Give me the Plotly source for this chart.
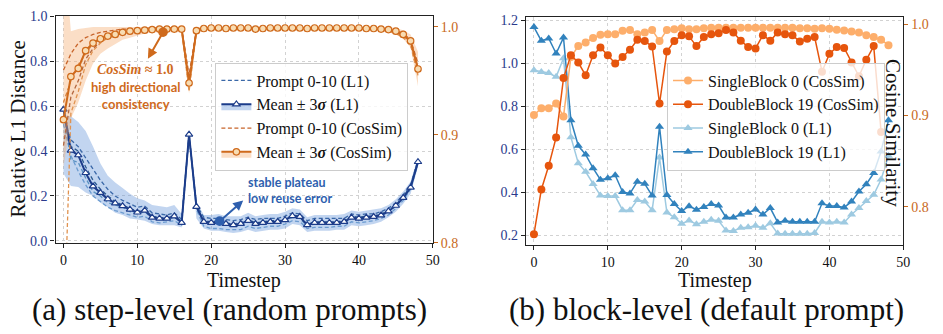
import plotly.graph_objects as go

# ---------------- data: (a) step-level ----------------
t = list(range(49))
x_ticks = [0, 10, 20, 30, 40, 50]

l1_mean = [0.585, 0.403, 0.382, 0.303, 0.243, 0.214, 0.186, 0.168, 0.155, 0.14,
           0.127, 0.135, 0.104, 0.10, 0.10, 0.11, 0.081, 0.474, 0.152, 0.085,
           0.081, 0.085, 0.076, 0.071, 0.076, 0.090, 0.076, 0.081, 0.085, 0.085,
           0.093, 0.111, 0.107, 0.071, 0.081, 0.081, 0.081, 0.081, 0.085, 0.104,
           0.100, 0.104, 0.107, 0.114, 0.132, 0.157, 0.192, 0.238, 0.352]
l1_lo = [0.30, 0.245, 0.24, 0.215, 0.20, 0.17, 0.15, 0.125, 0.115, 0.10,
         0.095, 0.09, 0.075, 0.07, 0.07, 0.07, 0.06, 0.455, 0.10, 0.055,
         0.045, 0.045, 0.04, 0.035, 0.04, 0.05, 0.04, 0.045, 0.05, 0.05,
         0.055, 0.075, 0.07, 0.04, 0.045, 0.045, 0.045, 0.05, 0.05, 0.07,
         0.065, 0.07, 0.075, 0.085, 0.105, 0.13, 0.165, 0.21, 0.33]
l1_hi = [0.56, 0.555, 0.53, 0.49, 0.42, 0.345, 0.29, 0.26, 0.235, 0.21,
         0.19, 0.18, 0.16, 0.155, 0.15, 0.16, 0.12, 0.49, 0.175, 0.115,
         0.115, 0.12, 0.11, 0.11, 0.11, 0.125, 0.11, 0.115, 0.12, 0.12,
         0.13, 0.145, 0.14, 0.105, 0.115, 0.115, 0.115, 0.115, 0.12, 0.135,
         0.13, 0.135, 0.14, 0.145, 0.16, 0.185, 0.22, 0.265, 0.375]

cos_mean = [0.914, 0.954, 0.9615, 0.978, 0.985, 0.989, 0.9915, 0.993, 0.995, 0.996,
            0.9965, 0.997, 0.9975, 0.998, 0.998, 0.998, 0.998, 0.948, 0.9965, 0.9985,
            0.999, 0.999, 0.9985, 0.999, 0.999, 0.999, 0.998, 0.9985, 0.999, 0.999,
            0.999, 0.999, 0.999, 0.9985, 0.999, 0.999, 0.999, 0.999, 0.999, 0.999,
            0.999, 0.9985, 0.9985, 0.998, 0.9975, 0.996, 0.993, 0.987, 0.961]
cos_lo = [0.87, 0.915, 0.93, 0.95, 0.966, 0.975, 0.98, 0.984, 0.988, 0.99,
          0.992, 0.994, 0.995, 0.995, 0.995, 0.995, 0.995, 0.938, 0.993, 0.997,
          0.997, 0.997, 0.997, 0.997, 0.997, 0.997, 0.996, 0.997, 0.997, 0.997,
          0.997, 0.997, 0.997, 0.997, 0.997, 0.997, 0.997, 0.997, 0.997, 0.997,
          0.997, 0.997, 0.997, 0.996, 0.995, 0.993, 0.989, 0.981, 0.945]
cos_hi = [1.08, 0.996, 0.998, 0.999, 1.0, 1.0, 1.0, 1.0, 1.0, 1.0,
          1.0, 1.0, 1.0, 1.0, 1.0, 1.0, 1.0, 0.958, 1.0, 1.0,
          1.0, 1.0, 1.0, 1.0, 1.0, 1.0, 1.0, 1.0, 1.0, 1.0,
          1.0, 1.0, 1.0, 1.0, 1.0, 1.0, 1.0, 1.0, 1.0, 1.0,
          1.0, 1.0, 1.0, 1.0, 1.0, 0.999, 0.997, 0.993, 0.977]

l1_p1 = [0.56, 0.45, 0.42, 0.37, 0.32, 0.27, 0.23, 0.20, 0.18, 0.165,
         0.15, 0.155, 0.125, 0.12, 0.115, 0.125, 0.095, 0.47, 0.16, 0.105,
         0.10, 0.10, 0.095, 0.09, 0.095, 0.105, 0.095, 0.10, 0.10, 0.10,
         0.11, 0.125, 0.12, 0.09, 0.10, 0.10, 0.10, 0.10, 0.10, 0.12,
         0.115, 0.12, 0.12, 0.13, 0.145, 0.17, 0.205, 0.25, 0.36]
l1_p2 = [0.52, 0.38, 0.31, 0.25, 0.20, 0.175, 0.15, 0.135, 0.125, 0.115,
         0.105, 0.11, 0.085, 0.08, 0.085, 0.09, 0.07, 0.475, 0.14, 0.065,
         0.055, 0.055, 0.05, 0.05, 0.05, 0.065, 0.055, 0.06, 0.065, 0.065,
         0.075, 0.09, 0.085, 0.055, 0.06, 0.06, 0.06, 0.065, 0.065, 0.085,
         0.08, 0.085, 0.09, 0.10, 0.115, 0.145, 0.18, 0.23, 0.345]
l1_p3 = [0.60, 0.42, 0.40, 0.33, 0.27, 0.23, 0.20, 0.175, 0.16, 0.145,
         0.13, 0.14, 0.11, 0.105, 0.10, 0.115, 0.085, 0.48, 0.155, 0.09,
         0.085, 0.09, 0.08, 0.075, 0.08, 0.095, 0.08, 0.085, 0.09, 0.09,
         0.095, 0.115, 0.11, 0.075, 0.085, 0.085, 0.085, 0.085, 0.09, 0.11,
         0.105, 0.11, 0.11, 0.12, 0.135, 0.16, 0.195, 0.245, 0.355]
l1_p4 = [0.58, 0.36, 0.35, 0.28, 0.22, 0.20, 0.17, 0.16, 0.15, 0.13,
         0.12, 0.13, 0.10, 0.095, 0.095, 0.105, 0.08, 0.465, 0.15, 0.08,
         0.075, 0.08, 0.07, 0.065, 0.07, 0.085, 0.07, 0.075, 0.08, 0.08,
         0.09, 0.105, 0.10, 0.065, 0.075, 0.075, 0.075, 0.075, 0.08, 0.10,
         0.095, 0.10, 0.105, 0.11, 0.13, 0.155, 0.19, 0.235, 0.35]

cos_p1 = [0.96, 0.975, 0.985, 0.99, 0.993, 0.995, 0.996, 0.997, 0.998, 0.998,
          0.998, 0.999, 0.999, 0.999, 0.999, 0.999, 0.999, 0.955, 0.998, 0.999,
          0.9995, 0.9995, 0.999, 0.9995, 0.9995, 0.9995, 0.999, 0.999, 0.9995, 0.9995,
          0.9995, 0.9995, 0.9995, 0.999, 0.9995, 0.9995, 0.9995, 0.9995, 0.9995, 0.9995,
          0.9995, 0.999, 0.999, 0.9985, 0.998, 0.9965, 0.994, 0.988, 0.966]
cos_p2 = [0.93, 0.95, 0.965, 0.975, 0.985, 0.99, 0.993, 0.995, 0.996, 0.997,
          0.997, 0.998, 0.998, 0.998, 0.998, 0.998, 0.998, 0.945, 0.997, 0.998,
          0.999, 0.999, 0.998, 0.999, 0.999, 0.999, 0.998, 0.998, 0.999, 0.999,
          0.999, 0.999, 0.999, 0.998, 0.999, 0.999, 0.999, 0.999, 0.999, 0.999,
          0.999, 0.998, 0.998, 0.9975, 0.9965, 0.995, 0.991, 0.984, 0.957]
cos_p3 = [0.89, 0.935, 0.95, 0.97, 0.98, 0.986, 0.99, 0.992, 0.994, 0.995,
          0.996, 0.997, 0.997, 0.998, 0.998, 0.998, 0.998, 0.952, 0.996, 0.998,
          0.999, 0.999, 0.998, 0.999, 0.999, 0.999, 0.998, 0.999, 0.999, 0.999,
          0.999, 0.999, 0.999, 0.999, 0.999, 0.999, 0.999, 0.999, 0.999, 0.999,
          0.999, 0.999, 0.998, 0.998, 0.997, 0.995, 0.992, 0.986, 0.962]
cos_p4 = [0.70, 0.92, 0.94, 0.965, 0.978, 0.985, 0.99, 0.992, 0.994, 0.995,
          0.996, 0.997, 0.997, 0.997, 0.997, 0.997, 0.997, 0.94, 0.995, 0.998,
          0.9985, 0.9985, 0.998, 0.9985, 0.9985, 0.9985, 0.998, 0.998, 0.9985, 0.9985,
          0.9985, 0.9985, 0.9985, 0.998, 0.9985, 0.9985, 0.9985, 0.9985, 0.9985, 0.9985,
          0.9985, 0.998, 0.998, 0.997, 0.996, 0.994, 0.99, 0.983, 0.955]

l1_prompts = [l1_p1, l1_p2, l1_p3, l1_p4]
cos_prompts = [cos_p1, cos_p2, cos_p3, cos_p4]

# ---------------- data: (b) block-level ----------------
single_l1 = [0.968, 0.96, 0.955, 0.937, 1.024, 0.656, 0.535, 0.495, 0.438, 0.384,
             0.382, 0.382, 0.316, 0.316, 0.364, 0.357, 0.316, 0.561, 0.305, 0.283,
             0.253, 0.268, 0.251, 0.262, 0.271, 0.267, 0.222, 0.219, 0.234, 0.237,
             0.244, 0.234, 0.255, 0.207, 0.206, 0.206, 0.206, 0.206, 0.210, 0.262,
             0.259, 0.262, 0.259, 0.296, 0.326, 0.359, 0.388, 0.459, 0.57]
double_l1 = [1.169, 1.105, 1.116, 1.046, 1.12, 0.735, 0.616, 0.575, 0.512, 0.458,
             0.465, 0.479, 0.401, 0.394, 0.449, 0.439, 0.384, 0.705, 0.387, 0.345,
             0.312, 0.335, 0.318, 0.331, 0.345, 0.338, 0.282, 0.282, 0.296, 0.304,
             0.319, 0.296, 0.326, 0.259, 0.267, 0.262, 0.262, 0.262, 0.262, 0.348,
             0.336, 0.336, 0.329, 0.356, 0.403, 0.437, 0.489, 0.59, 0.735]
single_cos = [0.9005, 0.908, 0.908, 0.913, 0.899, 0.964, 0.976, 0.980, 0.985, 0.9885,
              0.989, 0.989, 0.9927, 0.9937, 0.989, 0.991, 0.9937, 0.9815, 0.9937, 0.9945,
              0.9955, 0.9945, 0.9945, 0.9955, 0.996, 0.996, 0.996, 0.996, 0.996, 0.996,
              0.996, 0.996, 0.996, 0.996, 0.996, 0.996, 0.9955, 0.9955, 0.995, 0.9955,
              0.995, 0.994, 0.993, 0.992, 0.991, 0.988, 0.986, 0.983, 0.977]
double_cos = [0.770, 0.819, 0.845, 0.876, 0.941, 0.966, 0.958, 0.944, 0.966, 0.9745,
              0.966, 0.957, 0.964, 0.972, 0.983, 0.9815, 0.9756, 0.913, 0.970, 0.9815,
              0.9878, 0.9867, 0.976, 0.986, 0.989, 0.990, 0.9937, 0.991, 0.982, 0.975,
              0.9735, 0.988, 0.982, 0.991, 0.989, 0.988, 0.981, 0.984, 0.986, 0.948,
              0.9675, 0.975, 0.974, 0.958, 0.943, 0.961, 0.976, 0.882]

# ---------------- styles ----------------
SERIF = "Liberation Serif, Times New Roman, serif"
SANS = "Lato, Open Sans, sans-serif"
NAVY = "#1c3c8a"
ORANGE = "#cf6a1c"
L1_BAND = "rgba(95,145,215,0.38)"
COS_BAND = "rgba(244,172,112,0.40)"
L1_PROMPT_COLORS = ["#3a68a8", "#6b9bd0", "#2c5a90", "#5b92c2"]
COS_PROMPT_COLORS = ["#c8642a", "#da8540", "#b4673f", "#e0924f"]
AXIS_TICK_BLUE = "#2b3a8c"
AXIS_TICK_ORANGE = "#c8691c"
GRID = "#d2d2d2"

fig = go.Figure()

# ---- (a) L1 band ----
fig.add_trace(go.Scatter(x=t, y=l1_hi, mode="lines", line=dict(width=0),
                         showlegend=False, hoverinfo="skip", xaxis="x", yaxis="y"))
fig.add_trace(go.Scatter(x=t, y=l1_lo, mode="lines", line=dict(width=0),
                         fill="tonexty", fillcolor=L1_BAND,
                         showlegend=False, hoverinfo="skip", xaxis="x", yaxis="y"))
for i, p in enumerate(l1_prompts):
    fig.add_trace(go.Scatter(x=t, y=p, mode="lines",
                             line=dict(color=L1_PROMPT_COLORS[i], width=1.3, dash="4px,2.5px"),
                             name="Prompt 0-10 (L1)", showlegend=(i == 0),
                             legend="legend", legendrank=1,
                             xaxis="x", yaxis="y"))
fig.add_trace(go.Scatter(x=t, y=l1_mean, mode="lines+markers",
                         line=dict(color=NAVY, width=2),
                         marker=dict(symbol="triangle-up", size=6.5, color="white",
                                     line=dict(color=NAVY, width=1.2)),
                         showlegend=False, xaxis="x", yaxis="y"))
fig.add_trace(go.Scatter(x=[None], y=[None], mode="lines+markers",
                         line=dict(color=NAVY, width=2), fill="toself", fillcolor=L1_BAND,
                         marker=dict(symbol="triangle-up", size=6.5, color="white",
                                     line=dict(color=NAVY, width=1.2)),
                         name="Mean ± 3<i><b>σ</b></i> (L1)", legend="legend", legendrank=2,
                         xaxis="x", yaxis="y"))

# ---- (a) CosSim band ----
fig.add_trace(go.Scatter(x=t, y=cos_hi, mode="lines", line=dict(width=0),
                         showlegend=False, hoverinfo="skip", xaxis="x", yaxis="y2"))
fig.add_trace(go.Scatter(x=t, y=cos_lo, mode="lines", line=dict(width=0),
                         fill="tonexty", fillcolor=COS_BAND,
                         showlegend=False, hoverinfo="skip", xaxis="x", yaxis="y2"))
for i, p in enumerate(cos_prompts):
    fig.add_trace(go.Scatter(x=t, y=p, mode="lines",
                             line=dict(color=COS_PROMPT_COLORS[i], width=1.3, dash="4px,2.5px"),
                             name="Prompt 0-10 (CosSim)", showlegend=(i == 0),
                             legend="legend", legendrank=3,
                             xaxis="x", yaxis="y2"))
fig.add_trace(go.Scatter(x=t, y=cos_mean, mode="lines+markers",
                         line=dict(color=ORANGE, width=2),
                         marker=dict(symbol="circle", size=6.5, color="#f8dcb2",
                                     line=dict(color=ORANGE, width=1.2)),
                         showlegend=False, xaxis="x", yaxis="y2"))
fig.add_trace(go.Scatter(x=[None], y=[None], mode="lines+markers",
                         line=dict(color=ORANGE, width=2), fill="toself", fillcolor=COS_BAND,
                         marker=dict(symbol="circle", size=6.5, color="#f8dcb2",
                                     line=dict(color=ORANGE, width=1.2)),
                         name="Mean ± 3<i><b>σ</b></i> (CosSim)", legend="legend", legendrank=4,
                         xaxis="x", yaxis="y2"))

# ---- (b) block level ----
fig.add_trace(go.Scatter(x=t, y=single_l1, mode="lines+markers", name="SingleBlock 0 (L1)",
                         line=dict(color="#9ecae1", width=1.5),
                         marker=dict(symbol="triangle-up", size=8, color="#9ecae1"),
                         legend="legend2", legendrank=3, xaxis="x2", yaxis="y3"))
fig.add_trace(go.Scatter(x=t, y=double_l1, mode="lines+markers", name="DoubleBlock 19 (L1)",
                         line=dict(color="#3182bd", width=1.5),
                         marker=dict(symbol="triangle-up", size=8, color="#3182bd"),
                         legend="legend2", legendrank=4, xaxis="x2", yaxis="y3"))
fig.add_trace(go.Scatter(x=t, y=single_cos, mode="lines+markers", name="SingleBlock 0 (CosSim)",
                         line=dict(color="#fdae6b", width=1.5),
                         marker=dict(symbol="circle", size=8, color="#fdae6b"),
                         legend="legend2", legendrank=1, xaxis="x2", yaxis="y4"))
fig.add_trace(go.Scatter(x=t[:len(double_cos)], y=double_cos, mode="lines+markers",
                         name="DoubleBlock 19 (CosSim)",
                         line=dict(color="#e6550d", width=1.5),
                         marker=dict(symbol="circle", size=8, color="#e6550d"),
                         legend="legend2", legendrank=2, xaxis="x2", yaxis="y4"))

W, H = 943, 334
def px(v): return v / W
def py(v): return 1 - v / H

xa = dict(range=[-1.07, 50], tickvals=x_ticks, ticks="outside", ticklen=4, tickwidth=1,
          tickcolor="#222", showline=True, mirror=True, linecolor="#222", linewidth=1.4,
          showgrid=True, gridcolor=GRID, griddash="dot", gridwidth=1, zeroline=False,
          tickfont=dict(family=SERIF, size=14, color="#111"))
ya_common = dict(ticks="outside", ticklen=4, tickwidth=1, tickcolor="#222",
                 showline=True, linecolor="#222", linewidth=1.4, zeroline=False)

fig.update_layout(
    width=W, height=H, margin=dict(l=0, r=0, t=0, b=0),
    paper_bgcolor="white", plot_bgcolor="white",
    font=dict(family=SERIF),
    xaxis=dict(xa, domain=[px(56), px(436)], anchor="y"),
    yaxis=dict(ya_common, domain=[py(247), py(10)], range=[-0.008, 1.004],
               tickvals=[0, 0.2, 0.4, 0.6, 0.8, 1.0],
               ticktext=["0.0", "0.2", "0.4", "0.6", "0.8", "1.0"],
               showgrid=True, gridcolor=GRID, griddash="dot",
               tickfont=dict(family=SERIF, size=14, color=AXIS_TICK_BLUE), anchor="x"),
    yaxis2=dict(ya_common, overlaying="y", side="right", anchor="x", range=[0.8, 1.0105],
                tickvals=[0.8, 0.9, 1.0], ticktext=["0.8", "0.9", "1.0"], showgrid=False,
                tickcolor=AXIS_TICK_ORANGE,
                tickfont=dict(family=SERIF, size=14, color=AXIS_TICK_ORANGE)),
    xaxis2=dict(xa, domain=[px(530), px(910)], anchor="y3"),
    yaxis3=dict(ya_common, domain=[py(249), py(11)], range=[0.156, 1.218],
                tickvals=[0.2, 0.4, 0.6, 0.8, 1.0, 1.2],
                ticktext=["0.2", "0.4", "0.6", "0.8", "1.0", "1.2"],
                showgrid=True, gridcolor=GRID, griddash="dot",
                tickfont=dict(family=SERIF, size=14, color=AXIS_TICK_BLUE), anchor="x2"),
    yaxis4=dict(ya_common, overlaying="y3", side="right", anchor="x2", range=[0.7586, 1.0084],
                tickvals=[0.8, 0.9, 1.0], ticktext=["0.8", "0.9", "1.0"], showgrid=False,
                tickcolor=AXIS_TICK_ORANGE,
                tickfont=dict(family=SERIF, size=14, color=AXIS_TICK_ORANGE)),
    legend=dict(x=px(217), y=py(59), xanchor="left", yanchor="top", traceorder="normal",
                bgcolor="rgba(255,255,255,0.8)", bordercolor="#cccccc", borderwidth=1,
                font=dict(family=SERIF, size=16, color="#111"), itemwidth=30,
                tracegroupgap=0),
    legend2=dict(x=px(672), y=py(59), xanchor="left", yanchor="top", traceorder="normal",
                 bgcolor="rgba(255,255,255,0.8)", bordercolor="#cccccc", borderwidth=1,
                 font=dict(family=SERIF, size=16, color="#111"), itemwidth=30,
                 tracegroupgap=0),
)

ann = []
ann.append(dict(text="Relative L1 Distance", x=px(18), y=py(128), textangle=-90,
                font=dict(family=SERIF, size=21, color="#111")))
ann.append(dict(text="Timestep", x=px(246), y=py(287), font=dict(family=SERIF, size=20, color="#111")))
ann.append(dict(text="Timestep", x=px(720), y=py(287), font=dict(family=SERIF, size=20, color="#111")))
ann.append(dict(text="Cosine Similarity", x=px(899), y=py(133), textangle=90,
                font=dict(family=SERIF, size=21, color="#111")))
ann.append(dict(text="(a) step-level (random prompts)", x=px(231), y=py(317),
                font=dict(family=SERIF, size=31, color="#111")))
ann.append(dict(text="(b) block-level (default prompt)", x=px(712), y=py(317),
                font=dict(family=SERIF, size=31, color="#111")))
ann.append(dict(text="<b><i>CosSim</i> ≈ 1.0</b>", x=px(137), y=py(66),
                font=dict(family=SERIF, size=14, color=ORANGE)))
ann.append(dict(text="<b>high directional<br>consistency</b>", x=px(137), y=py(93),
                font=dict(family=SANS, size=13, color=ORANGE)))
ann.append(dict(text="<b>stable plateau<br>low reuse error</b>", x=px(248), y=py(193),
                xanchor="left", align="left",
                font=dict(family=SANS, size=12.5, color="#2e5fae")))
ann.append(dict(text="", x=px(149), y=py(55), ax=16, ay=-28, showarrow=True,
                arrowhead=2, arrowsize=1, arrowwidth=2, arrowcolor=ORANGE,
                arrowside="end+start", startarrowhead=6, startarrowsize=1.2))
ann.append(dict(text="", x=px(245), y=py(203), ax=-25, ay=22, showarrow=True,
                arrowhead=2, arrowsize=1, arrowwidth=2, arrowcolor="#2e5fae",
                arrowside="end+start", startarrowhead=6, startarrowsize=1.2))
for a in ann:
    a.setdefault("xref", "paper")
    a.setdefault("yref", "paper")
    a.setdefault("xanchor", "center")
    a.setdefault("yanchor", "middle")
    a.setdefault("showarrow", False)
fig.update_layout(annotations=ann)

fig.write_html("out.html")
